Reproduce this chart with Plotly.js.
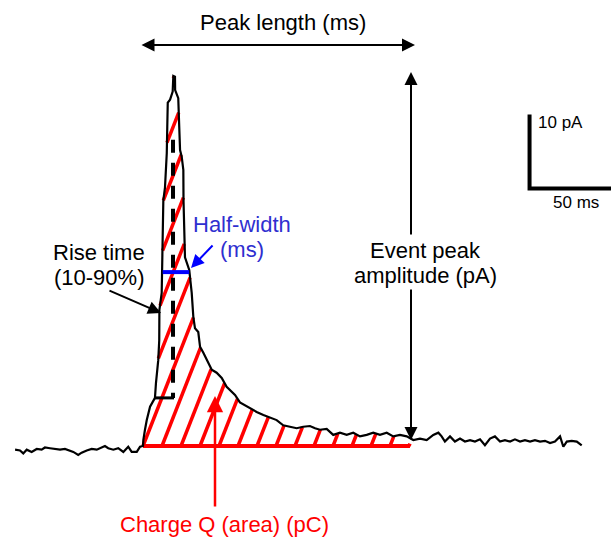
<!DOCTYPE html>
<html>
<head>
<meta charset="utf-8">
<script src="https://cdn.plot.ly/plotly-3.0.1.min.js"></script>
<style>html,body{margin:0;padding:0;background:#fff;}#chart{width:611px;height:539px;}</style>
</head>
<body>
<div id="chart"></div>
<script>
// ---- recorded event: time (ms) and current (pA) ----
var time_ms = [-78.0,-75.0,-73.0,-70.9,-67.9,-64.8,-61.8,-59.8,-56.7,-53.7,-50.6,-47.6,-44.5,-42.5,-39.5,-37.4,-34.3,-31.3,-28.2,-26.2,-23.2,-21.2,-18.1,-15.1,-12.0,-9.0,-6.9,-3.8,-1.8,0.0,
  0.2,1.2,2.3,4.3,6.3,7.3,7.9,9.3,9.9,10.0,11.4,11.8,12.0,12.4,13.4,14.0,14.5,14.8,15.1,16.5,18.1,18.5,
  19.5,19.6,21.5,22.1,22.6,23.6,24.6,24.7,25.0,25.3,25.6,28.2,29.7,30.7,31.7,33.7,34.8,36.8,39.8,41.9,
  44.9,48.0,51.0,53.0,56.1,59.1,62.2,65.2,69.3,73.4,77.4,81.5,85.5,89.6,93.7,97.7,101.8,104.9,107.9,112.0,
  116.0,120.1,124.2,128.2,132.3,136.4,140.4,144.5,148.6,152.6,156.7,160.8,164.8,168.9,173.0,177.0,180.1,182.1,184.1,187.2,
  190.2,193.3,196.3,199.4,202.4,205.5,208.5,211.6,214.6,217.7,220.7,223.8,226.8,229.9,232.9,236.0,239.0,242.1,245.1,248.2,
  251.2,254.3,256.3,258.4,261.4,264.5,267.5];
var current_pA = [-0.5,-0.6,-1.0,-0.5,-0.8,-0.4,-0.5,-0.2,-0.3,-0.4,-0.5,-0.4,-0.6,-0.8,-1.2,-0.9,-0.6,-0.4,-0.5,-0.3,0.0,-0.3,-0.5,-0.3,-0.8,-0.1,-0.8,-0.8,-0.1,0.0,
  0.8,2.2,3.5,5.3,6.2,6.5,8.5,11.6,14.3,18.4,20.7,24.2,28.8,33.2,34.9,37.3,39.6,43.1,46.4,46.8,47.9,50.0,
  49.9,48.1,47.0,43.1,40.0,39.1,37.3,33.2,29.2,26.5,25.5,23.8,20.7,17.4,15.9,15.4,13.4,12.6,11.2,10.3,
  9.9,9.2,8.0,7.6,6.9,5.9,5.5,5.1,4.6,4.2,3.8,3.5,2.8,2.6,2.4,2.6,2.7,2.4,2.2,2.3,
  1.5,1.8,1.5,1.8,1.3,1.5,1.8,1.5,1.8,1.3,1.5,1.3,0.8,1.0,0.8,1.5,1.8,1.3,0.6,1.3,
  0.6,1.0,0.6,0.8,0.6,0.9,0.1,1.0,1.3,0.6,0.8,0.6,0.9,0.6,0.8,0.6,0.8,0.6,0.7,0.4,
  0.6,1.3,-0.1,0.6,0.7,0.6,0.1];

// measured quantities (ms / pA)
var chargeWindow_ms = [0.0, 162.8];        // integration window for charge Q
var riseMarker_ms = 18.3;                  // rise-time marker position
var riseLevels_pA = [41.4, 6.5];           // 90% / 10% levels as marked
var riseFoot_ms = [7.3, 18.9];             // 10% foot tick
var halfWidth_ms = [12.0, 28.2];           // half-width bar
var halfLevel_pA = 23.5;
var scaleBar_ms = 50, scaleBar_pA = 10;
var scaleOrigin = [235.7, 34.8];           // ms, pA

// ---- figure geometry (pixels per unit from scale bar) ----
var PX_PER_MS = 1.64, PX_PER_PA = 7.4, X0 = 143, Y0 = 446;
function tAt(px){ return (px - X0) / PX_PER_MS; }
function iAt(py){ return (Y0 - py) / PX_PER_PA; }

function interp(t){
  if (t <= time_ms[0]) return current_pA[0];
  for (var k = 1; k < time_ms.length; k++){
    if (t <= time_ms[k]){
      var f = (t - time_ms[k-1]) / (time_ms[k] - time_ms[k-1]);
      return current_pA[k-1] + f * (current_pA[k] - current_pA[k-1]);
    }
  }
  return current_pA[current_pA.length-1];
}

// hatch lines (steep diagonal) clipped to area under the event
var HATCH_SLOPE_PX = 2.55, HATCH_SPACING_PX = 19;
var slopeData = HATCH_SLOPE_PX * PX_PER_MS / PX_PER_PA; // pA per ms
var spacing = HATCH_SPACING_PX / PX_PER_MS;
var hx = [], hy = [];
for (var kk = -12; kk * spacing <= chargeWindow_ms[1]; kk++){
  var t0 = chargeWindow_ms[0] + kk * spacing;
  var inside = false, lastT = null, lastI = null;
  for (var I = 0; I <= 52; I += 0.04){
    var t = t0 + I / slopeData;
    var ok = t >= chargeWindow_ms[0] && t <= chargeWindow_ms[1] && I <= interp(t);
    if (ok && !inside){ hx.push(t); hy.push(I); inside = true; }
    if (!ok && inside){ hx.push(lastT); hy.push(lastI); hx.push(null); hy.push(null); inside = false; }
    lastT = t; lastI = I;
  }
  if (inside){ hx.push(lastT); hy.push(lastI); hx.push(null); hy.push(null); }
}

var traces = [
  {x: hx, y: hy, mode: 'lines', line: {color: '#ff0000', width: 3.5}, hoverinfo: 'skip'},
  {x: chargeWindow_ms, y: [0, 0], mode: 'lines', line: {color: '#ff0000', width: 4}, hoverinfo: 'skip'},
  {x: time_ms, y: current_pA, mode: 'lines', line: {color: '#000000', width: 2.2}},
  {x: [riseMarker_ms, riseMarker_ms], y: riseLevels_pA, mode: 'lines', line: {color: '#000', width: 4, dash: '13px,10px'}},
  {x: riseFoot_ms, y: [riseLevels_pA[1], riseLevels_pA[1]], mode: 'lines', line: {color: '#000', width: 3}},
  {x: halfWidth_ms, y: [halfLevel_pA, halfLevel_pA], mode: 'lines', line: {color: '#0000ff', width: 4}},
  {x: [scaleOrigin[0], scaleOrigin[0], scaleOrigin[0] + scaleBar_ms],
   y: [scaleOrigin[1] + scaleBar_pA, scaleOrigin[1], scaleOrigin[1]],
   mode: 'lines', line: {color: '#000', width: 4}}
];

var F = 'Liberation Sans, Arial, sans-serif';
function label(txt, px, py, size, color, anchor){
  return {text: txt, x: tAt(px), y: iAt(py), xref: 'x', yref: 'y', showarrow: false,
          xanchor: anchor || 'center', yanchor: 'middle',
          font: {family: F, size: size, color: color || '#000'}};
}
function arrow(tipx, tipy, ax, ay, color, width, both){
  var a = {text: '', x: tAt(tipx), y: iAt(tipy), xref: 'x', yref: 'y', ax: ax, ay: ay,
           showarrow: true, arrowhead: 2, arrowsize: 1.3, arrowwidth: width || 2,
           arrowcolor: color || '#000', standoff: 0, startstandoff: 0};
  if (both){ a.arrowside = 'end+start'; a.startarrowhead = 2; a.startarrowsize = 1.3; }
  return a;
}

var annotations = [
  label('Peak length (ms)', 283, 22, 22),
  label('Rise time', 99, 252, 22),
  label('(10-90%)', 99, 277, 22),
  label('Half-width', 242, 224, 22, '#2f2fd0'),
  label('(ms)', 242, 249, 22, '#2f2fd0'),
  label('Event peak', 425, 250, 22),
  label('amplitude (pA)', 425, 275, 22),
  label('Charge Q (area) (pC)', 224, 524, 22, '#ff0000'),
  label('10 pA', 536, 122, 17, '#000', 'left'),
  label('50 ms', 576, 202, 17),
  arrow(415, 45, -275, 0, '#000', 2, true),
  arrow(411, 72, 0, 164, '#000', 2),
  arrow(411, 440, 0, -152, '#000', 2),
  arrow(161, 313, -53, -23, '#000', 2),
  arrow(191, 268, 23, -24, '#0000ff', 2),
  arrow(215, 396, 0, 112, '#ff0000', 2.5)
];

var layout = {
  width: 611, height: 539,
  margin: {l: 0, r: 0, t: 0, b: 0, pad: 0},
  paper_bgcolor: '#fff', plot_bgcolor: '#fff',
  showlegend: false,
  xaxis: {range: [tAt(0), tAt(611)], visible: false, fixedrange: true},
  yaxis: {range: [iAt(539), iAt(0)], visible: false, fixedrange: true},
  annotations: annotations
};

Plotly.newPlot('chart', traces, layout, {displayModeBar: false, staticPlot: true});
</script>
</body>
</html>
